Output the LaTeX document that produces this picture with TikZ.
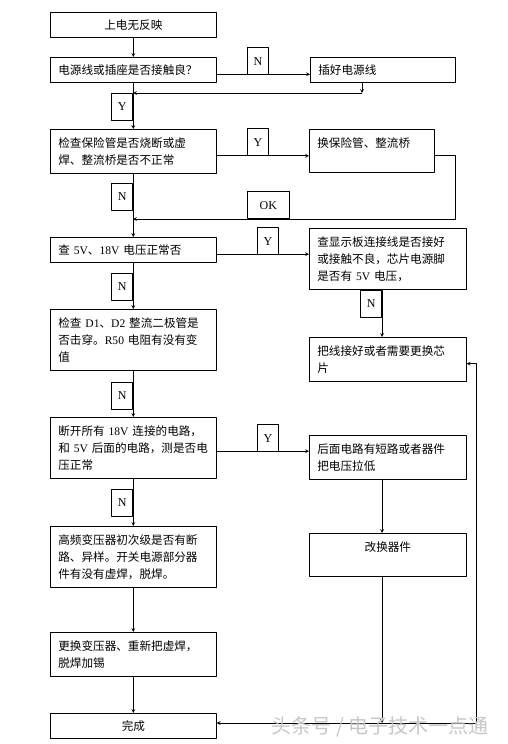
\documentclass[tikz,border=0pt]{standalone}
\usepackage{fontspec}
\setmainfont{Noto Sans CJK SC}
\newfontfamily\lat{Liberation Serif}
\begin{document}
\begin{tikzpicture}[>=stealth, x=1pt, y=-1pt, line width=0.7pt, line join=round,
	every node/.style={font=\fontsize{11.6}{17}\selectfont},
	box/.style={draw, anchor=north west, align=left, inner xsep=8pt, inner ysep=8pt},
	lbox/.style={box, text width=150pt},
	rbox/.style={box, text width=141pt},
	tag/.style={draw, minimum width=21pt, minimum height=27pt, inner sep=0pt, font=\lat\fontsize{12}{14}\selectfont}]
	
	\useasboundingbox (0,0) rectangle (507,744);
	
	\node[lbox, align=center, inner ysep=7pt] (start) at (50,12) {上电无反映};
	\node[lbox, inner ysep=7pt] (q1) at (50,57) {电源线或插座是否接触良？};
	\node[box, text width=129pt, inner ysep=7pt] (plug) at (310,57) {插好电源线};
	\node[lbox] (q2) at (50,129) {检查保险管是否烧断或虚\\焊、整流桥是否不正常};
	\node[box, text width=109pt] (fuse) at (309,129) {换保险管、整流桥\\\mbox{}};
	\node[lbox, inner ysep=7pt] (q3) at (50,237) {查~{\lat 5V}、{\lat 18V}~电压正常否};
	\node[rbox] (disp) at (309,228) {查显示板连接线是否接好\\或接触不良，芯片电源脚\\是否有~{\lat 5V}~电压，};
	\node[rbox] (wire) at (309,337) {把线接好或者需要更换芯\\片};
	\node[lbox] (q4) at (50,309) {检查~{\lat D1}、{\lat D2}~整流二极管是\\否击穿。{\lat R50}~电阻有没有变\\值};
	\node[lbox] (q5) at (50,417) {断开所有~{\lat 18V}~连接的电路，\\和~{\lat 5V}~后面的电路，测是否电\\压正常};
	\node[rbox] (short) at (309,435) {后面电路有短路或者器件\\把电压拉低};
	\node[rbox, align=center] (repl) at (309,533) {改换器件\\\mbox{}};
	\node[lbox] (q6) at (50,526) {高频变压器初次级是否有断\\路、异样。开关电源部分器\\件有没有虚焊，脱焊。};
	\node[lbox] (fix) at (50,632) {更换变压器、重新把虚焊，\\脱焊加锡};
	\node[lbox, align=center, inner ysep=7pt] (done) at (50,713) {完成};
	
	\coordinate (cx) at (382,0);
	\coordinate (rx) at (362,93);
	\coordinate (jx) at (133,93);
	\coordinate (ok1) at (455,219);
	\coordinate (ok2) at (133,219);
	\coordinate (bt) at (382,723);
	\coordinate (rr) at (476,723);
	
	\draw[->] (start) -- (q1);
	\draw[->] ([yshift=-4.5pt]q1.east) -- ([yshift=-4.5pt]q1.east -| plug.west);
	\node[tag, anchor=south west] (n1) at (247,75) {N};
	\draw[->] (plug.south -| rx) -- (rx);
	\draw[->] (rx) -- (jx);
	\draw[->] (q1) -- (q2);
	\node[tag, anchor=north east] (y1) at (jx) {Y};
	
	\draw[->] ([yshift=-4.5pt]q2.east) -- ([yshift=-4.5pt]q2.east -| fuse.west);
	\node[tag, anchor=south west] (y2) at (247,156) {Y};
	\draw[->] ([yshift=-4.5pt]fuse.east) -| (ok1) -- (ok2);
	\node[tag, anchor=south west, minimum width=42pt] (ok) at (247,219) {OK};
	\draw[->] (q2) -- (q3);
	\node[tag, anchor=north east] (n2) at (133,183) {N};
	
	\draw[->] ([yshift=-4.5pt]q3.east) -- ([yshift=-4.5pt]q3.east -| disp.west);
	\node[tag, anchor=south west] (y3) at (257,255) {Y};
	\draw[->] (disp.south -| cx) -- (wire.north -| cx);
	\node[tag, anchor=north east] (n3) at (disp.south -| cx) {N};
	\draw[->] (q3) -- (q4);
	\node[tag, anchor=north east] (n4) at (133,273) {N};
	\draw[->] (q4) -- (q5);
	\node[tag, anchor=north east] (n5) at (133,382) {N};
	
	\draw[->] ([yshift=-3.5pt]q5.east) -- ([yshift=-3.5pt]q5.east -| short.west);
	\node[tag, anchor=south west] (y4) at (257,452) {Y};
	\draw[->] (short.south -| cx) -- (repl.north -| cx);
	\draw[->] (q5) -- (q6);
	\node[tag, anchor=north east] (n6) at (133,489) {N};
	\draw[->] (q6) -- (fix);
	\draw[->] (fix) -- (done);
	
	\draw[->] (repl.south -| cx) -- (bt);
	\draw[->] (rr) -- (rr -| done.east);
	\draw[->] (rr) |- ([yshift=-4.5pt]wire.east);
	
	\node[anchor=west, text=gray!45, font=\fontsize{20}{20}\selectfont] (wm) at (268,727) {头条号 / 电子技术一点通};
	
\end{tikzpicture}
\end{document}
